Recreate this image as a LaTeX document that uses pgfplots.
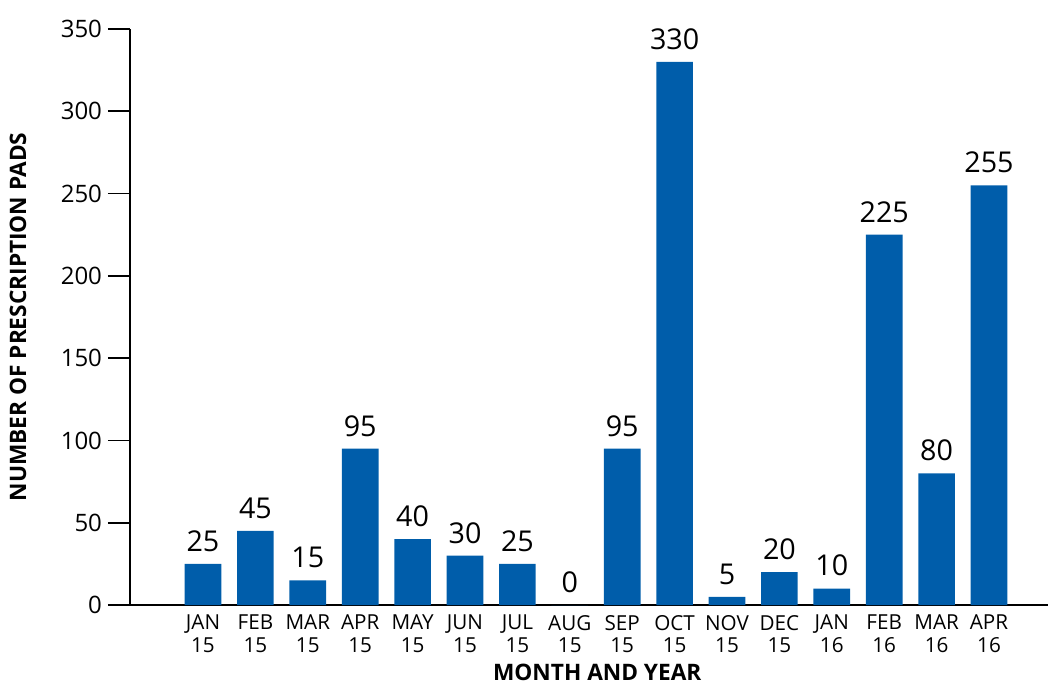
\documentclass[border=0pt]{standalone}
\usepackage{fontspec}
\setmainfont{Open Sans}
\usepackage{pgfplots}
\pgfplotsset{compat=1.18}
\definecolor{barblue}{RGB}{0,93,170}
\begin{document}
\begin{tikzpicture}
\useasboundingbox (-97.5pt,-60.75pt) rectangle (689.25pt,453.75pt);
\begin{axis}[
  at={(0,0)}, anchor=south west,
  scale only axis,
  width=688.5pt, height=432pt,
  xmin=-1.393, xmax=16.126,
  ymin=0, ymax=350,
  axis x line=bottom, axis y line=left,
  axis line style={-, line width=1.2pt, black},
  ytick={0,50,...,350},
  xtick={0,...,15},
  xticklabels={{JAN\\15},{FEB\\15},{MAR\\15},{APR\\15},{MAY\\15},{JUN\\15},{JUL\\15},{AUG\\15},{SEP\\15},{OCT\\15},{NOV\\15},{DEC\\15},{JAN\\16},{FEB\\16},{MAR\\16},{APR\\16}},
  xtick style={draw=none},
  ytick style={line width=1.2pt, black},
  tick align=outside,
  major tick length=16.5pt,
  /pgf/number format/assume math mode=true,
  yticklabel style={font=\fontsize{18}{20}\selectfont, xshift=-1pt},
  xticklabel style={font=\fontsize{15.5}{17}\selectfont, align=center, yshift=12.5pt},
  ylabel={\textbf{NUMBER OF PRESCRIPTION PADS}},
  ylabel style={at={(rel axis cs:-0.122,0.5)}, anchor=center, font=\fontsize{17}{19}\selectfont},
  xlabel={\textbf{MONTH AND YEAR}},
  xlabel style={at={(rel axis cs:0.509,-0.117)}, anchor=center, font=\fontsize{17}{19}\selectfont},
  clip=false,
  ybar, bar width=0.7,
  bar shift=0pt,
  nodes near coords,
  nodes near coords style={font=\fontsize{21.5}{23}\selectfont, inner sep=0pt, anchor=south, yshift=9pt},
]
\addplot[fill=barblue, draw=none] coordinates {
(0,25) (1,45) (2,15) (3,95) (4,40) (5,30) (6,25) (7,0)
(8,95) (9,330) (10,5) (11,20) (12,10) (13,225) (14,80) (15,255)
};
\end{axis}
\end{tikzpicture}
\end{document}
